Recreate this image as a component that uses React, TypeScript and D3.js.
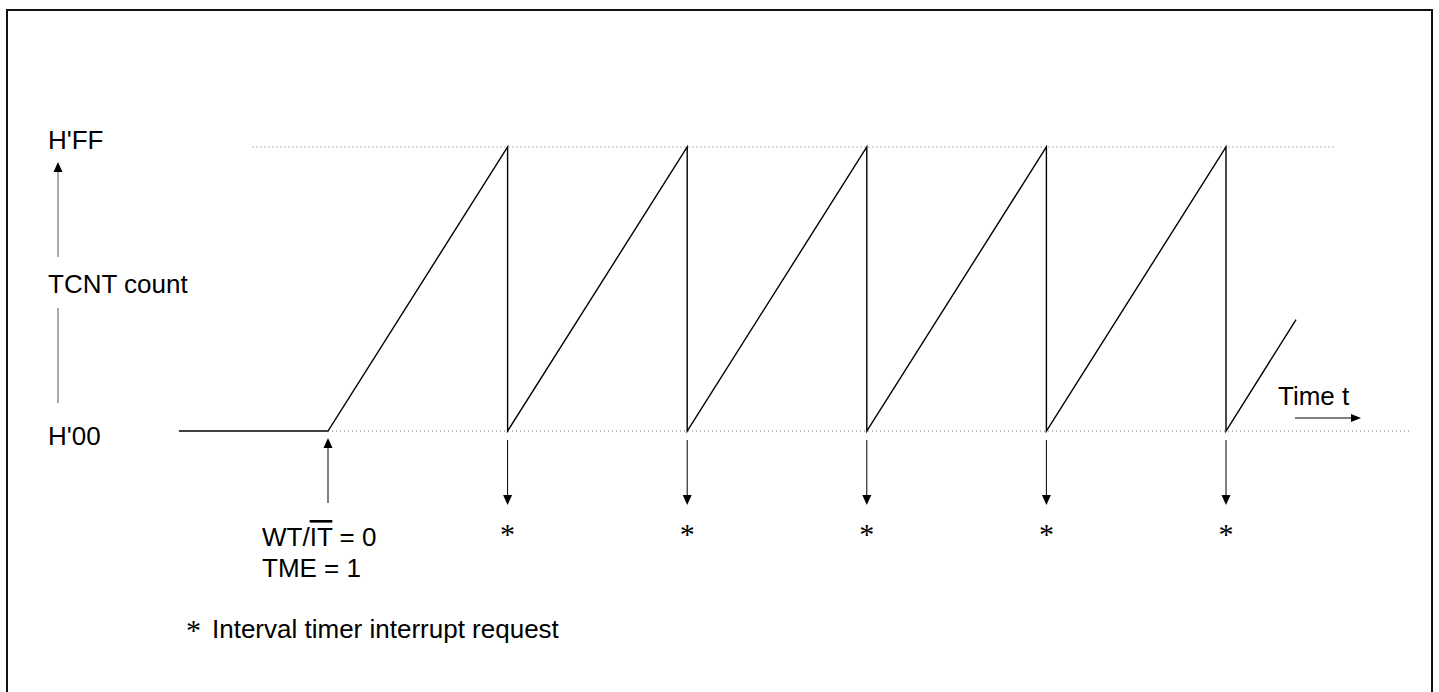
import React from "react";
import * as d3 from "d3";

// Time in units of one overflow period; count in TCNT units (H'00..H'FF)
const countSeries: [number, number][] = [
  [-0.83, 0],
  [0, 0],
  [1, 255],
  [1, 0],
  [2, 255],
  [2, 0],
  [3, 255],
  [3, 0],
  [4, 255],
  [4, 0],
  [5, 255],
  [5, 0],
  [5.39, 100],
];
const overflowTimes = [1, 2, 3, 4, 5];
const startTime = 0;
const levelLabels = ["H'FF", "H'00"];
const levelValues = [255, 0];
const dottedExtents: [number, number][] = [
  [-0.42, 5.6],
  [0, 6.02],
];
const axisTitle = "TCNT count";
const timeTitle = "Time t";
const startLabel = ["WT/", "IT", " = 0"];
const startLabel2 = "TME = 1";
const footnote = "Interval timer interrupt request";

const W = 1439;
const H = 692;
const FONT = "Arial, 'Liberation Sans', Helvetica, sans-serif";
const SERIF = "'Times New Roman', 'Liberation Serif', serif";

function head(x: number, y: number, dir: "up" | "down" | "right", len: number, half: number) {
  if (dir === "up") return `M${x},${y}L${x - half},${y + len}L${x + half},${y + len}Z`;
  if (dir === "down") return `M${x},${y}L${x - half},${y - len}L${x + half},${y - len}Z`;
  return `M${x},${y}L${x - len},${y - half}L${x - len},${y + half}Z`;
}

export default function App() {
  const x = d3.scaleLinear().domain([0, 5]).range([328, 1226]);
  const y = d3.scaleLinear().domain([0, 255]).range([431, 147]);
  const line = d3
    .line<[number, number]>()
    .x((d) => x(d[0]))
    .y((d) => y(d[1]));

  const y0 = y(0);
  const xs = x(startTime);

  return (
    <svg
      width={W}
      height={H}
      style={{ position: "absolute", left: 0, top: 0, background: "#fff" }}
      fontFamily={FONT}
    >
      <rect x={7} y={10} width={1425} height={700} fill="none" stroke="#111" strokeWidth={2} />

      {/* dotted reference levels */}
      {levelValues.map((v, i) => (
        <line
          key={"dot" + i}
          x1={x(dottedExtents[i][0])}
          x2={x(dottedExtents[i][1])}
          y1={y(v)}
          y2={y(v)}
          stroke="#777"
          strokeWidth={1}
          strokeDasharray="1,3"
        />
      ))}

      {/* level labels */}
      {levelLabels.map((l, i) => (
        <text key={"lab" + i} x={48} y={y(levelValues[i]) + (i === 0 ? 2 : 14)} fontSize={26} fill="#000">
          {l}
        </text>
      ))}

      {/* vertical axis arrow */}
      <line x1={58} x2={58} y1={257} y2={170} stroke="#555" strokeWidth={1} />
      <path d={head(58, 162, "up", 10, 4.5)} fill="#000" />
      <line x1={58} x2={58} y1={308} y2={403} stroke="#555" strokeWidth={1} />
      <text x={48} y={293} fontSize={26} fill="#000">
        {axisTitle}
      </text>

      {/* counter waveform */}
      <path d={line(countSeries) || ""} fill="none" stroke="#000" strokeWidth={1.4} />

      {/* start arrow */}
      <line x1={xs} x2={xs} y1={503} y2={446} stroke="#000" strokeWidth={1} />
      <path d={head(xs, 438, "up", 10, 4.5)} fill="#000" />
      <text x={262} y={546} fontSize={26} fill="#000">
        {startLabel[0]}
        <tspan style={{ textDecoration: "overline" }}>{startLabel[1]}</tspan>
        {startLabel[2]}
      </text>
      <text x={262} y={577} fontSize={26} fill="#000">
        {startLabel2}
      </text>

      {/* interrupt arrows */}
      {overflowTimes.map((t, i) => (
        <g key={"ov" + i}>
          <line x1={x(t)} x2={x(t)} y1={y0 + 9} y2={y0 + 66} stroke="#000" strokeWidth={1} />
          <path d={head(x(t), y0 + 74, "down", 10, 4.5)} fill="#000" />
          <text x={x(t)} y={544} fontSize={30} textAnchor="middle" fontFamily={SERIF} fill="#000">
            *
          </text>
        </g>
      ))}

      {/* time arrow */}
      <text x={1278} y={405} fontSize={26} fill="#000">
        {timeTitle}
      </text>
      <line x1={1295} x2={1352} y1={418} y2={418} stroke="#000" strokeWidth={1} />
      <path d={head(1361, 418, "right", 10, 4)} fill="#000" />

      {/* footnote */}
      <text x={186} y={640} fontSize={30} fontFamily={SERIF} fill="#000">
        *
      </text>
      <text x={212} y={638} fontSize={26} fill="#000">
        {footnote}
      </text>
    </svg>
  );
}
